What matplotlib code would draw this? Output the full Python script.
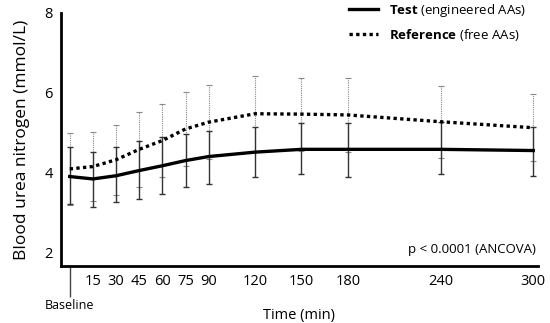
import matplotlib.pyplot as plt
from matplotlib.lines import Line2D

plt.rcParams['font.family'] = ['Open Sans', 'DejaVu Sans']
plt.rcParams['mathtext.fontset'] = 'custom'
plt.rcParams['mathtext.bf'] = 'Open Sans:bold'
plt.rcParams['mathtext.rm'] = 'Open Sans'

# time points (min), 0 = baseline
times = [0, 15, 30, 45, 60, 75, 90, 120, 150, 180, 240, 300]

# Test (engineered AAs): mean, lower and upper error bar ends
test_mean = [3.91, 3.85, 3.93, 4.06, 4.18, 4.31, 4.41, 4.52, 4.59, 4.59, 4.59, 4.56]
test_lo = [3.22, 3.16, 3.28, 3.34, 3.47, 3.64, 3.73, 3.89, 3.98, 3.91, 3.98, 3.93]
test_hi = [4.64, 4.53, 4.64, 4.81, 4.89, 4.98, 5.06, 5.16, 5.24, 5.26, 5.28, 5.16]

# Reference (free AAs): mean and upper error bar end (symmetric)
ref_mean = [4.10, 4.16, 4.33, 4.59, 4.81, 5.10, 5.27, 5.48, 5.47, 5.45, 5.28, 5.13]
ref_hi = [4.99, 5.03, 5.20, 5.53, 5.72, 6.03, 6.20, 6.43, 6.38, 6.37, 6.18, 5.97]

fig = plt.figure(figsize=(5.5, 3.23), dpi=100)
ax = fig.add_axes([0.111, 0.176, 0.867, 0.784])

ref_sd = [h - m for h, m in zip(ref_hi, ref_mean)]
eb = ax.errorbar(times, ref_mean, yerr=ref_sd, fmt='none', ecolor='#888888',
                 elinewidth=0.8, capsize=2.5, capthick=0.8)
eb[2][0].set_linestyle((0, (1, 1)))

test_err = [[m - l for m, l in zip(test_mean, test_lo)],
            [h - m for h, m in zip(test_hi, test_mean)]]
ax.errorbar(times, test_mean, yerr=test_err, fmt='none', ecolor='#333333',
            elinewidth=1.0, capsize=2.5, capthick=1.0)

ax.plot(times, ref_mean, color='black', lw=2.4, linestyle=(0, (1, 1)))
ax.plot(times, test_mean, color='black', lw=2.4)

ax.set_xlim(-5.6, 303)
ax.set_ylim(1.67, 8)
ax.set_yticks([2, 4, 6, 8])
ax.set_xticks(times[1:])
ax.set_xticks([0], minor=True)
ax.set_xticklabels(['Baseline'], minor=True, fontsize=9)
ax.tick_params(axis='both', which='major', length=0, labelsize=10.5, pad=6)
ax.tick_params(axis='x', which='minor', length=22, width=1, color='#444444', pad=2)

for s in ['top', 'right']:
    ax.spines[s].set_visible(False)
for s in ['left', 'bottom']:
    ax.spines[s].set_linewidth(2)

ax.set_xlabel('Time (min)', fontsize=10.5, labelpad=-3)
ax.set_ylabel('Blood urea nitrogen (mmol/L)', fontsize=12.5, labelpad=10)

ax.text(0.995, 0.04, 'p < 0.0001 (ANCOVA)', transform=ax.transAxes,
        ha='right', va='bottom', fontsize=9.5)

handles = [Line2D([0], [0], color='black', lw=2.4),
           Line2D([0], [0], color='black', lw=2.4, linestyle=(0, (1, 1)))]
labels = [r'$\bf{Test}$ (engineered AAs)', r'$\bf{Reference}$ (free AAs)']
ax.legend(handles, labels, loc='upper right', bbox_to_anchor=(1.0, 1.09),
          frameon=False, fontsize=9.5, handlelength=2.2, labelspacing=0.6)

fig.savefig('out.png', dpi=100)
